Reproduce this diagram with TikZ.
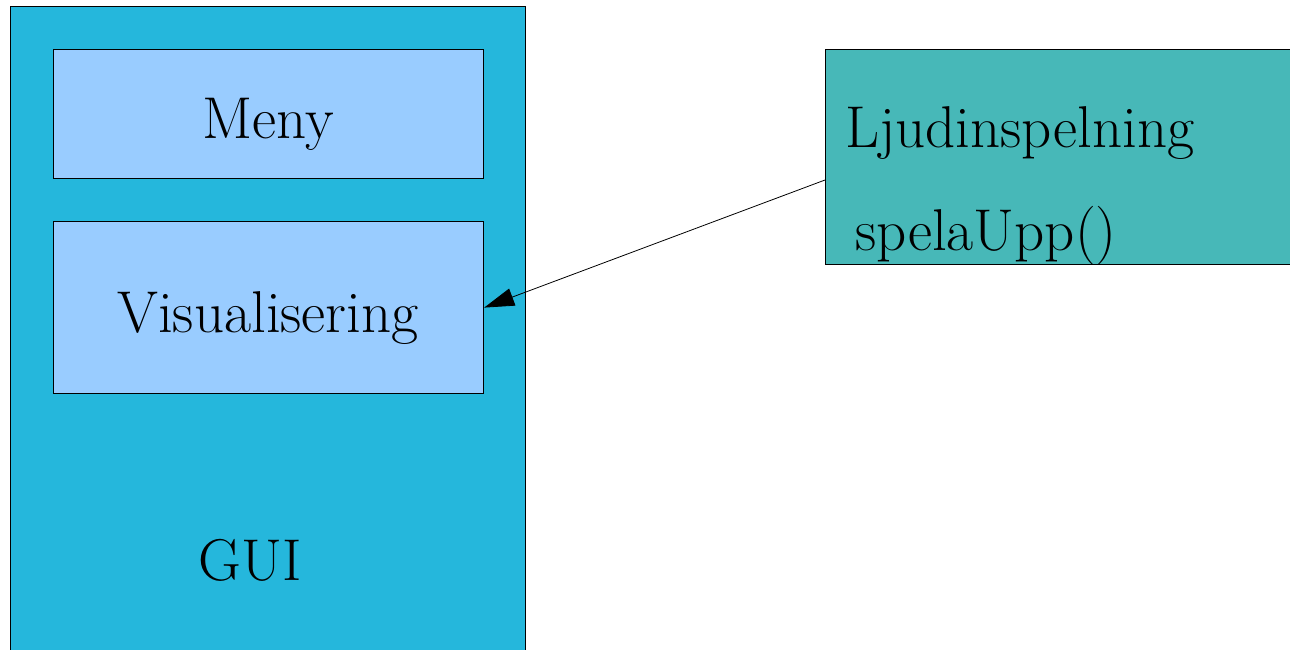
\documentclass[tikz,border=0pt]{standalone}
\usetikzlibrary{arrows.meta}

\definecolor{guiblue}{HTML}{25B7DC}
\definecolor{delblue}{HTML}{99CCFF}
\definecolor{ljudgron}{HTML}{47B8B8}

\tikzset{
    ruta/.style={draw=black, line width=1.2pt, inner sep=0pt, anchor=north west},
    stor/.style={font=\fontsize{59}{68}\selectfont, inner sep=0pt}
}

\begin{document}
\begin{tikzpicture}[x=1pt,y=-1pt]
    % Ram och klippning
    \useasboundingbox (0,0) rectangle (1290,649);
    \clip (0,0) rectangle (1290,649);

    % Rutor
    \node[ruta, fill=guiblue, minimum width=515pt, minimum height=700pt] (gui) at (10,6) {};
    \node[ruta, fill=delblue, minimum width=430pt, minimum height=129pt] (meny) at (53,49) {};
    \node[ruta, fill=delblue, minimum width=430pt, minimum height=172pt] (visu) at (53,221) {};
    \node[ruta, fill=ljudgron, minimum width=520pt, minimum height=215pt] (ljud) at (825,49) {};

    % Texter
    \node[stor, anchor=base] (menytxt) at (268,138) {Meny};
    \node[stor, anchor=base] (visutxt) at (268,332) {Visualisering};
    \node[stor, anchor=base] (guitxt) at (250,580) {GUI};
    \node[stor, anchor=base west] (ljudtxt) at (845,147) {Ljudinspelning};
    \node[stor, anchor=base west] (speltxt) at (855,250) {spelaUpp()};

    % Pil
    \coordinate (pilstart) at (825,180);
    \draw[line width=0.8pt, -{Triangle[length=30pt,width=18pt]}] (pilstart) -- (visu.east);
\end{tikzpicture}
\end{document}
